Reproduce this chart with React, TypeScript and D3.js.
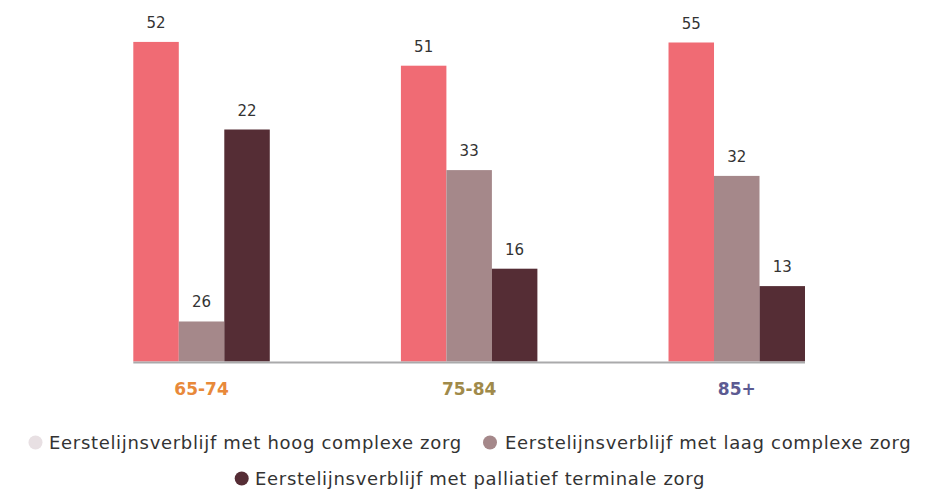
import React from "react";
import * as d3 from "d3";

const categories = ["65-74", "75-84", "85+"];
const categoryColors = ["#e8893a", "#a08a4a", "#5c5a92"];
const seriesNames = [
  "Eerstelijnsverblijf met hoog complexe zorg",
  "Eerstelijnsverblijf met laag complexe zorg",
  "Eerstelijnsverblijf met palliatief terminale zorg",
];
const seriesColors = ["#f06b74", "#a5888a", "#552d35"];
const legendColors = ["#e8e0e3", "#a5888a", "#552d35"];
// bar heights as drawn in the reference (per category, per series)
const barValues = [
  [55.1, 6.9, 40.0],
  [51, 33, 16],
  [55, 32, 13],
];
// labels printed above the bars
const labelValues = [
  [52, 26, 22],
  [51, 33, 16],
  [55, 32, 13],
];

const W = 928;
const H = 491;
const FONT = "'DejaVu Sans', sans-serif";

export default function App() {
  const x0 = d3.scaleBand<string>().domain(categories).range([133.3, 805]).paddingInner(0.49).paddingOuter(0);
  const x1 = d3.scaleBand<number>().domain([0, 1, 2]).range([0, x0.bandwidth()]).padding(0);
  const y = d3.scaleLinear().domain([0, 55]).range([361.5, 42.5]);

  return (
    <svg width={W} height={H} style={{ position: "absolute", left: 0, top: 0, background: "#fff" }} fontFamily={FONT}>
      {categories.map((c, ci) => (
        <g key={c} transform={`translate(${x0(c)},0)`}>
          {barValues[ci].map((v, si) => (
            <g key={si}>
              <rect x={x1(si)} y={y(v)} width={x1.bandwidth()} height={y(0) - y(v)} fill={seriesColors[si]} />
              <text x={(x1(si) as number) + x1.bandwidth() / 2} y={y(v) - 14} textAnchor="middle" fontSize={15} fill="#333">
                {labelValues[ci][si]}
              </text>
            </g>
          ))}
          <text x={x0.bandwidth() / 2} y={395} textAnchor="middle" fontSize={17} fontWeight="bold" fill={categoryColors[ci]}>
            {c}
          </text>
        </g>
      ))}
      <line x1={x0.range()[0]} x2={x0.range()[1]} y1={y(0) + 1} y2={y(0) + 1} stroke="#aaaaab" strokeWidth={2} />
      {/* legend */}
      {[
        { i: 0, cx: 35.5, tx: 49, ty: 449 },
        { i: 1, cx: 490, tx: 505, ty: 449 },
        { i: 2, cx: 241.7, tx: 255, ty: 485 },
      ].map((l) => (
        <g key={l.i}>
          <circle cx={l.cx} cy={l.ty - 6.5} r={7} fill={legendColors[l.i]} />
          <text x={l.tx} y={l.ty} fontSize={18} letterSpacing={0.68} fill="#333">
            {seriesNames[l.i]}
          </text>
        </g>
      ))}
    </svg>
  );
}
